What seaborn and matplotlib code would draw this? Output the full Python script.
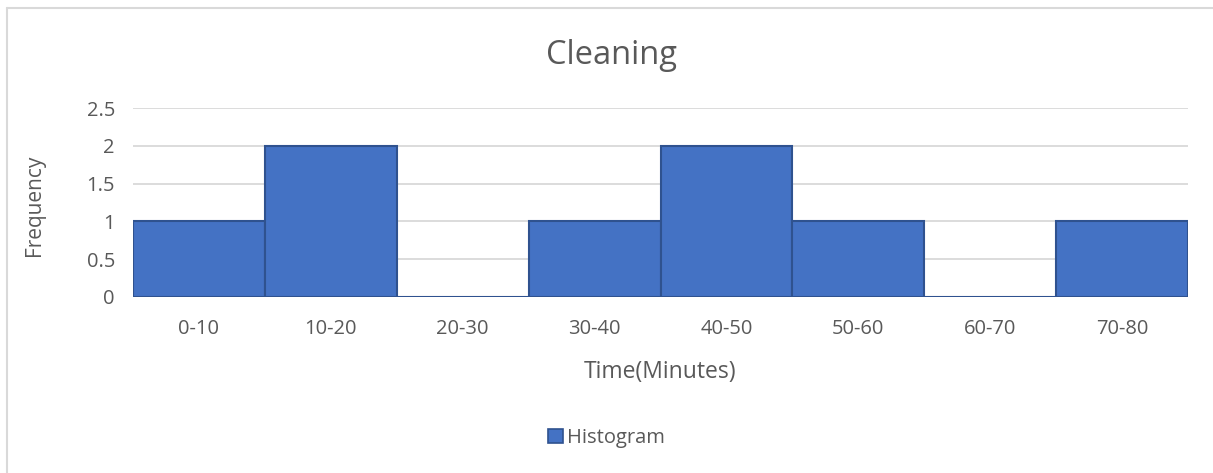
import matplotlib
matplotlib.use("Agg")
import matplotlib.pyplot as plt
import seaborn as sns
import pandas as pd
from matplotlib.lines import Line2D
from matplotlib.patches import Patch

categories = ["0-10", "10-20", "20-30", "30-40", "40-50", "50-60", "60-70", "70-80"]
frequency = [1, 2, 0, 1, 2, 1, 0, 1]
y_ticks = [0, 0.5, 1, 1.5, 2, 2.5]
y_tick_labels = ["0", "0.5", "1", "1.5", "2", "2.5"]

sns.set_theme(style="white")
plt.rcParams['font.family'] = ['Open Sans', 'DejaVu Sans']
text_color = "#595959"

df = pd.DataFrame({"Time": categories, "Frequency": frequency})

fig = plt.figure(figsize=(12.13, 4.73), dpi=100)
ax = fig.add_axes([133/1213, 1 - 297/473, (1188-133)/1213, (297-108)/473])

for t in y_ticks:
    ax.axhline(t, color="#D9D9D9", lw=1.3, zorder=0)

sns.barplot(data=df, x="Time", y="Frequency", ax=ax, color="#4472C4",
            width=1.0, edgecolor="#2F528F", linewidth=1.5, saturation=1, zorder=2)

ax.set_xlim(-0.5, len(categories) - 0.5)
ax.set_ylim(0, 2.5)
ax.set_yticks(y_ticks)
ax.set_yticklabels(y_tick_labels)
for s in ax.spines.values():
    s.set_visible(False)
ax.tick_params(axis="both", length=0, labelsize=14.5, colors=text_color)
ax.tick_params(axis="y", pad=13)
ax.tick_params(axis="x", pad=16)
ax.set_xlabel("Time(Minutes)", fontsize=16.5, color=text_color, labelpad=15)
ax.set_ylabel("Frequency", fontsize=15, color=text_color)
ax.yaxis.set_label_coords((45 - 133) / 1055, 0.487)

fig.text(611/1213, 1 - 55/473, "Cleaning", fontsize=23.5, color=text_color,
         ha="center", va="center")

handle = Patch(facecolor="#4472C4", edgecolor="#2F528F", linewidth=1.2)
fig.legend([handle], ["Histogram"], loc="center", bbox_to_anchor=(0.5, 1 - 438/473),
           frameon=False, fontsize=14.5, labelcolor=text_color,
           handlelength=0.75, handleheight=0.75, handletextpad=0.2)

# outer chart border (left and top visible)
fig.add_artist(Line2D([7/1213, 7/1213], [0, 1 - 8/473], transform=fig.transFigure,
                      color="#D9D9D9", lw=1.5))
fig.add_artist(Line2D([7/1213, 1], [1 - 8/473, 1 - 8/473], transform=fig.transFigure,
                      color="#D9D9D9", lw=1.5))

fig.savefig("out.png", dpi=100)
